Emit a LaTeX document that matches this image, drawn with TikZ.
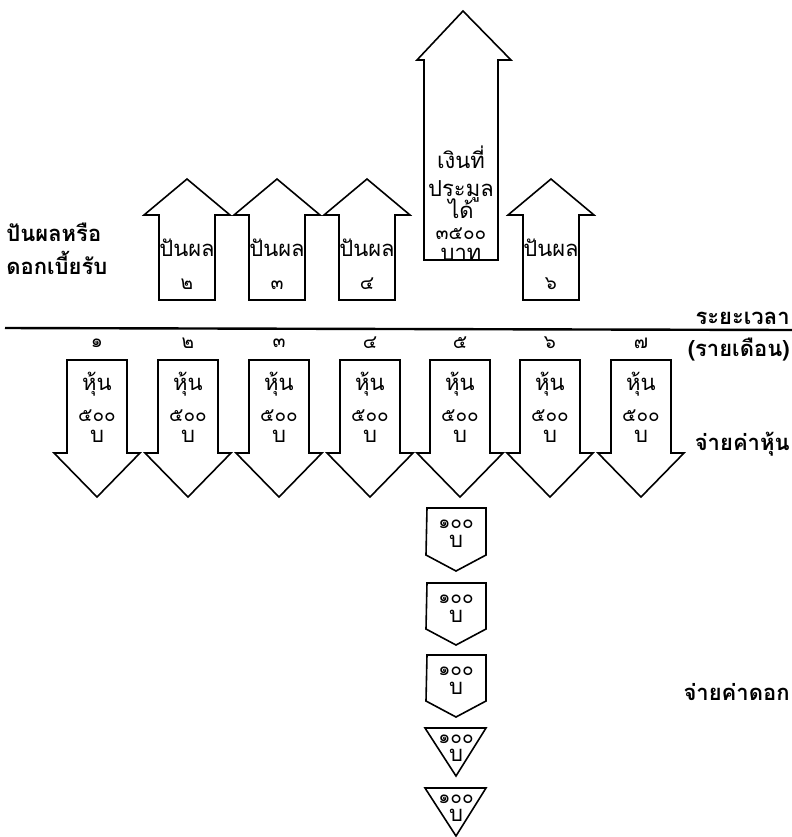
\documentclass[tikz,border=0pt]{standalone}
\usepackage{fontspec}
\newfontfamily\thaifont[Script=Thai]{Loma}
\newcommand\tightlines{\lineskiplimit=-30pt\relax\lineskip=0pt\relax}
\newcommand\dig{\fontsize{9.5}{10.5}\selectfont}
\tikzset{
  box/.style={draw, thick, line join=miter},
  txt/.style={font=\thaifont\fontsize{11}{10.5}\selectfont\tightlines,
    inner sep=0pt, align=center},
  lbl/.style={font=\thaifont\bfseries\fontsize{11}{13}\selectfont, inner sep=0pt},
}

\begin{document}
\begin{tikzpicture}[x=0.5pt,y=-0.5pt]
\useasboundingbox (0,0) rectangle (792,837);
% time line
\coordinate (tl-start) at (5,328);
\coordinate (tl-end) at (792,330);
\draw[very thick] (tl-start) -- (tl-end);
\node[lbl, anchor=east] (period) at (790,318) {ระยะเวลา};
\node[lbl, anchor=east] (monthly) at (790,350) {(รายเดือน)};
\node[lbl, anchor=west] (divlbl) at (6,232) {ปันผลหรือ};
\node[lbl, anchor=west] (intlbl) at (6,263) {ดอกเบี้ยรับ};
\node[lbl, anchor=east] (payshare) at (790,444) {จ่ายค่าหุ้น};
\node[lbl, anchor=east] (payint) at (790,692) {จ่ายค่าดอก};
% share payments each month
\foreach \x/\n [count=\i] in {97/๑,188/๒,279/๓,370/๔,460/๕,550/๖,641/๗} {
  \draw[box] (\x-30,360) -- (\x+30,360) -- (\x+30,453) -- (\x+43,453)
    -- (\x,497) -- (\x-43,453) -- (\x-30,453) -- cycle;
  \node[txt] (month\i) at (\x,343) {\dig\n};
  \node[txt] (share\i) at (\x,407) {หุ้น\\[5pt]{\dig ๕๐๐}\\บ};
}
% dividends
\foreach \x/\n in {187/๒,277/๓,367/๔,551/๖} {
  \draw[box] (\x-28,300) -- (\x-28,215) -- (\x-43,215) -- (\x,179)
    -- (\x+43,215) -- (\x+28,215) -- (\x+28,300) -- cycle;
  \node[txt] (div\n) at (\x,264) {ปันผล\\[6pt]{\dig\n}};
}
% money from the bid
\draw[box] (424,260) -- (424,60) -- (417,60) -- (463,11)
  -- (511,60) -- (498,60) -- (498,260) -- cycle;
\node[txt] (bid) at (461,203) {เงินที่\\[3.5pt]ประมูล\\[0.5pt]ได้\\{\dig ๓๕๐๐}\\บาท};
% interest payments
\foreach \t/\s [count=\i] in {508/555,583/629,655/701} {
  \draw[box] (427,\t) -- (486,\t) -- (486,\s) -- (456,\s+16)
    -- (426,\s) -- cycle;
  \node[txt] (int\i) at (456,\t+26) {{\dig ๑๐๐}\\[-1pt]บ};
}
\foreach \t [count=\i from 4] in {728,788} {
  \draw[box] (425,\t) -- (486,\t) -- (456,\t+48) -- cycle;
  \node[txt] (int\i) at (456,\t+20) {{\dig ๑๐๐}\\[-1.5pt]บ};
}
\end{tikzpicture}
\end{document}
